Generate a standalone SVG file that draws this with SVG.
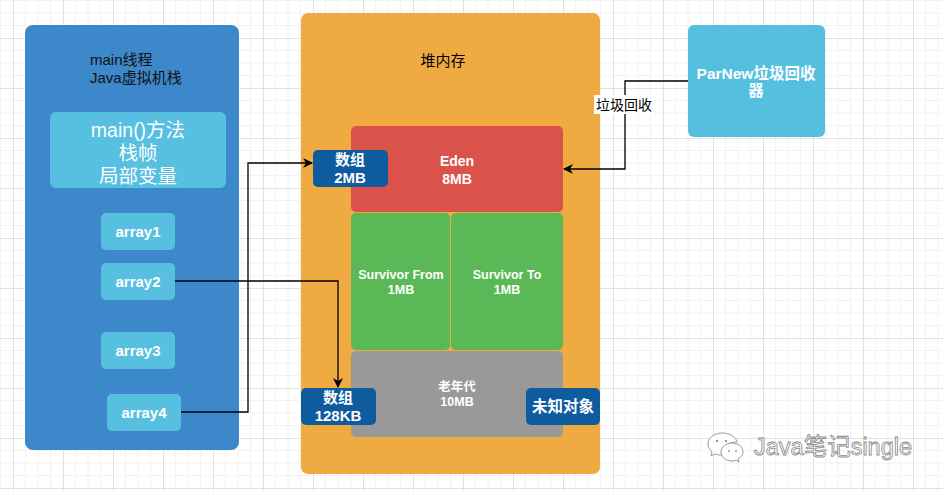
<svg xmlns="http://www.w3.org/2000/svg" width="943" height="491" viewBox="0 0 943 491">
<defs>
<pattern id="grid" x="13" y="38" width="50" height="50" patternUnits="userSpaceOnUse">
<path d="M12.5 0V50M25 0V50M37.5 0V50M0 12.5H50M0 25H50M0 37.5H50" stroke="#f2f2f2" stroke-width="1" fill="none"/>
<path d="M0.5 0V50M0 0.5H50" stroke="#e2e2e2" stroke-width="1" fill="none"/>
</pattern>
<marker id="arr" viewBox="0 0 10 10" refX="9" refY="5" markerWidth="10" markerHeight="10" markerUnits="userSpaceOnUse" orient="auto">
<path d="M0 0L10 5L0 10L3 5Z" fill="#000"/>
</marker>
<style>
.wb{fill:#fff;font-family:"Liberation Sans","Noto Sans CJK SC",sans-serif;font-weight:bold;text-anchor:middle}
.t{font-family:"Liberation Sans","Noto Sans CJK SC",sans-serif}
.conn{fill:none;stroke:#000;stroke-width:1.3}
</style>
</defs>
<rect width="943" height="491" fill="#fff"/>
<rect width="943" height="491" fill="url(#grid)"/>

<g id="jvm-stack">
<rect x="25" y="25" width="214" height="425" rx="8" fill="#3d87cb"/>
<text class="t" x="90" y="65" font-size="15" fill="#111">main线程</text>
<text class="t" x="90" y="83" font-size="15" fill="#111">Java虚拟机栈</text>
</g>
<g id="main-frame">
<rect x="50" y="112" width="176" height="76" rx="6" fill="#57bfe0"/>
<text class="t" x="138" y="137" font-size="19.5" fill="#fff" text-anchor="middle">main()方法</text>
<text class="t" x="138" y="160" font-size="19.5" fill="#fff" text-anchor="middle">栈帧</text>
<text class="t" x="138" y="183" font-size="19.5" fill="#fff" text-anchor="middle">局部变量</text>
</g>
<g id="array1"><rect x="101" y="213" width="74" height="37" rx="5" fill="#57bfe0"/><text class="wb" x="138" y="237" font-size="15">array1</text></g>
<g id="array2"><rect x="101" y="263" width="74" height="37" rx="5" fill="#57bfe0"/><text class="wb" x="138" y="287" font-size="15">array2</text></g>
<g id="array3"><rect x="101" y="332" width="74" height="37" rx="5" fill="#57bfe0"/><text class="wb" x="138" y="356" font-size="15">array3</text></g>
<g id="array4"><rect x="107" y="394" width="74" height="37" rx="5" fill="#57bfe0"/><text class="wb" x="144" y="418" font-size="15">array4</text></g>

<g id="heap">
<rect x="301" y="13" width="299" height="461" rx="7" fill="#efab42"/>
<text class="t" x="443" y="66" font-size="15" fill="#000" text-anchor="middle">堆内存</text>
</g>
<g id="eden">
<rect x="351" y="126" width="212" height="86" rx="5" fill="#db524b"/>
<text class="wb" x="457" y="166" font-size="14">Eden</text>
<text class="wb" x="457" y="184" font-size="14">8MB</text>
</g>
<g id="survivor-from">
<rect x="351" y="213" width="99" height="137" rx="5" fill="#5ab956"/>
<text class="wb" x="401" y="279" font-size="12.5">Survivor From</text>
<text class="wb" x="401" y="294" font-size="12.5">1MB</text>
</g>
<g id="survivor-to">
<rect x="451" y="213" width="112" height="137" rx="5" fill="#5ab956"/>
<text class="wb" x="507" y="279" font-size="12.5">Survivor To</text>
<text class="wb" x="507" y="294" font-size="12.5">1MB</text>
</g>
<g id="old-gen">
<rect x="351" y="351" width="212" height="86" rx="5" fill="#999999"/>
<text class="wb" x="457" y="391" font-size="12.5">老年代</text>
<text class="wb" x="457" y="406" font-size="12.5">10MB</text>
</g>
<g id="array-2mb">
<rect x="313" y="150" width="75" height="37" rx="5" fill="#0e5b9e"/>
<text class="wb" x="350" y="165" font-size="15">数组</text>
<text class="wb" x="350" y="183" font-size="15">2MB</text>
</g>
<g id="array-128kb">
<rect x="301" y="388" width="75" height="37" rx="5" fill="#0e5b9e"/>
<text class="wb" x="338" y="403" font-size="15">数组</text>
<text class="wb" x="338" y="421" font-size="15">128KB</text>
</g>
<g id="unknown-object">
<rect x="526" y="388" width="74" height="37" rx="5" fill="#0e5b9e"/>
<text class="wb" x="563" y="412" font-size="15.5">未知对象</text>
</g>
<g id="parnew">
<rect x="688" y="25" width="137" height="112" rx="6" fill="#55bfe0"/>
<text class="wb" x="756" y="79" font-size="15.5">ParNew垃圾回收</text>
<text class="wb" x="756" y="96" font-size="15.5">器</text>
</g>

<g id="connectors">
<path class="conn" d="M688 81H625V169H564" marker-end="url(#arr)"/>
<rect x="594" y="95" width="59" height="19" fill="#fff"/>
<text class="t" x="624" y="110" font-size="14" fill="#000" text-anchor="middle">垃圾回收</text>
<path class="conn" d="M175 281H338V387" marker-end="url(#arr)"/>
<path class="conn" d="M181 412H248V163H312" marker-end="url(#arr)"/>
</g>

<g id="watermark">
<g fill="#fff" stroke="#999" stroke-width="1">
<path d="M722 433c-8 0-14 5-14 11 0 3 2 6 4 8l-1 4 4-2c2 1 4 1 7 1 0-1 0-1 0-1 0-7 6-12 14-12 0 0 0 0 1 0-1-5-7-9-15-9z"/>
<path d="M732 443c-6 0-11 4-11 9s5 9 11 9c1 0 3 0 4-1l3 2-1-3c3-2 5-4 5-7 0-5-5-9-11-9z"/>
</g>
<g fill="#999"><circle cx="717" cy="441" r="1.2"/><circle cx="726" cy="441" r="1.2"/><circle cx="729" cy="451" r="1"/><circle cx="736" cy="451" r="1"/></g>
<text class="t" x="754" y="455" font-size="23.5" fill="#fff" stroke="#888" stroke-width="0.8">Java笔记single</text>
</g>
</svg>
